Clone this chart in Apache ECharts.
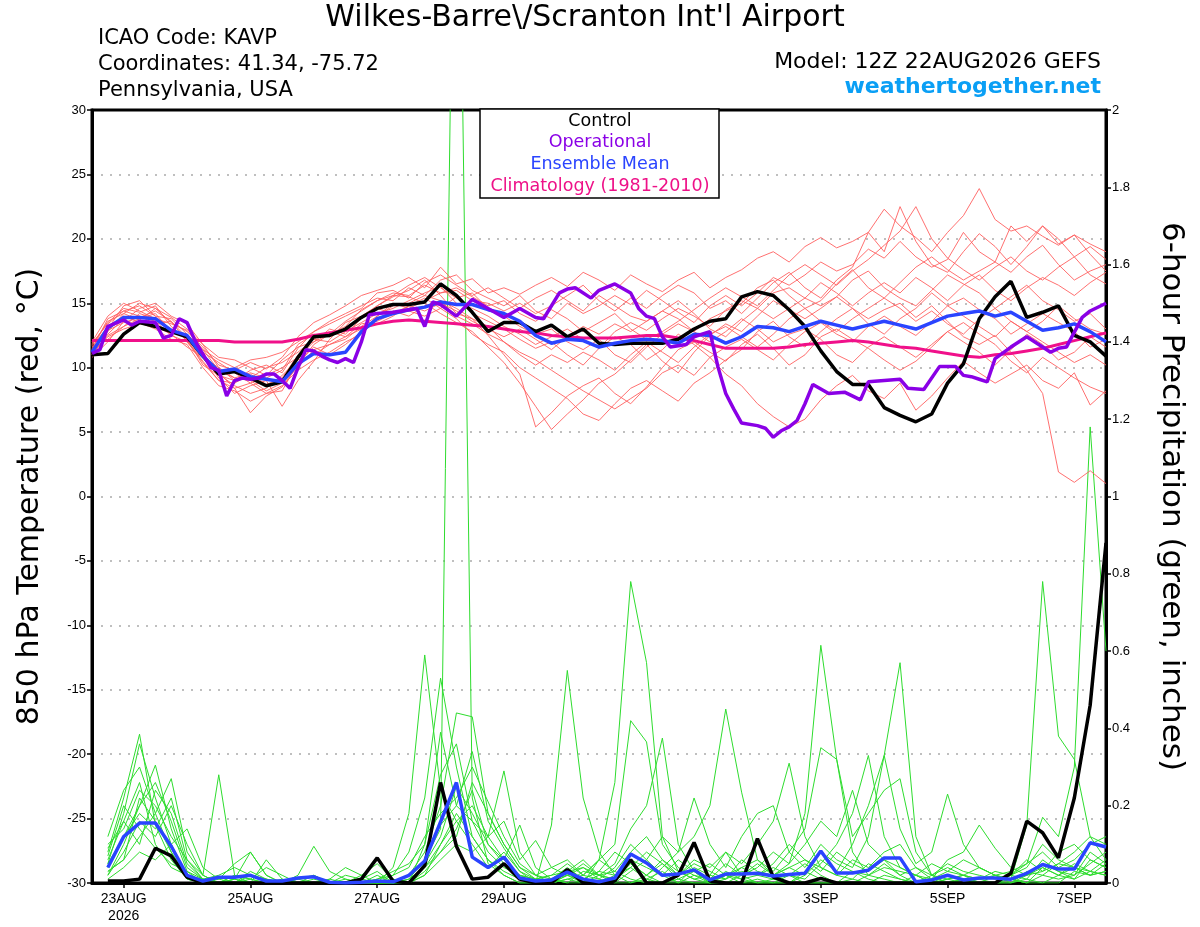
<!DOCTYPE html>
<html>
<head>
<meta charset="utf-8">
<script src="https://cdn.jsdelivr.net/npm/echarts@6.0.0/dist/echarts.min.js"></script>
<style>
  html, body { margin: 0; padding: 0; background: #fff; }
  #chart { width: 1200px; height: 927px; }
</style>
</head>
<body>
<div id="chart"></div>
<script>
// time axis: hours after 12Z 22AUG2026, one point every 6 hours
const stepHours = 6;
const tickHours = [12, 60, 108, 156, 228, 276, 324, 372];
const tickLabels = ['23AUG\n2026', '25AUG', '27AUG', '29AUG', '1SEP', '3SEP', '5SEP', '7SEP'];

// 850 hPa temperature (C), 65 values from 12Z 22AUG
const controlTemp = [
  11.0, 11.1, 12.6, 13.5, 13.2, 12.8, 12.4, 10.9, 9.5, 9.7,
  9.2, 8.6, 8.9, 10.8, 12.4, 12.5, 13.0, 13.9, 14.6, 14.9,
  14.9, 15.1, 16.5, 15.6, 14.3, 12.8, 13.5, 13.5, 12.8, 13.3,
  12.4, 13.0, 11.9, 11.8, 11.9, 11.9, 11.9, 12.2, 13.0, 13.6,
  13.8, 15.5, 15.9, 15.6, 14.5, 13.2, 11.3, 9.7, 8.7, 8.7,
  6.9, 6.3, 5.8, 6.4, 8.8, 10.3, 13.8, 15.5, 16.7, 13.9,
  14.3, 14.8, 12.5, 12.0, 10.9
];
const meanTemp = [
  11.2, 13.1, 13.9, 13.9, 13.8, 12.9, 12.5, 10.9, 9.7, 9.9,
  9.3, 9.1, 8.9, 10.3, 11.1, 11.0, 11.2, 12.8, 13.8, 14.2,
  14.5, 14.7, 15.1, 14.9, 14.9, 14.5, 14.2, 13.6, 12.5, 11.9,
  12.2, 12.1, 11.6, 11.9, 12.1, 12.2, 12.1, 11.9, 12.6, 12.5,
  11.9, 12.4, 13.2, 13.1, 12.8, 13.2, 13.6, 13.3, 13.0, 13.3,
  13.6, 13.3, 13.0, 13.5, 14.0, 14.2, 14.4, 14.0, 14.3, 13.6,
  12.9, 13.1, 13.4, 12.8, 12.0
];
const climTemp = [
  12.1, 12.1, 12.1, 12.1, 12.1, 12.1, 12.1, 12.1, 12.1, 12.0,
  12.0, 12.0, 12.0, 12.2, 12.5, 12.7, 12.9, 13.1, 13.4, 13.6,
  13.7, 13.6, 13.5, 13.4, 13.3, 13.2, 13.0, 12.8, 12.7, 12.5,
  12.4, 12.3, 12.3, 12.3, 12.4, 12.5, 12.5, 12.3, 12.1, 11.8,
  11.5, 11.5, 11.5, 11.5, 11.6, 11.8, 11.9, 12.0, 12.1, 12.0,
  11.8, 11.6, 11.5, 11.3, 11.1, 10.9, 10.8, 11.0, 11.1, 11.3,
  11.5, 11.8, 12.1, 12.4, 12.7
];
// operational run is 3-hourly, so it keeps its own hours
const opHours = [
  0, 3, 6, 12, 15, 18, 24, 27, 30, 33,
  36, 39, 45, 48, 51, 54, 57, 60, 63, 66,
  69, 72, 75, 78, 81, 84, 87, 90, 93, 96,
  99, 102, 105, 108, 114, 120, 123, 126, 129, 132,
  138, 144, 150, 156, 162, 168, 171, 177, 180, 183,
  189, 192, 198, 204, 207, 210, 213, 216, 219, 222,
  225, 228, 234, 237, 240, 243, 246, 252, 255, 258,
  261, 264, 267, 270, 273, 279, 285, 291, 294, 300,
  306, 309, 315, 321, 327, 330, 333, 336, 339, 342,
  348, 354, 360, 363, 366, 369, 375, 378, 384
];
const opTemp = [
  11.1, 11.4, 13.2, 13.7, 13.3, 13.6, 13.5, 12.3, 12.5, 13.8,
  13.5, 12.1, 10.0, 9.8, 7.8, 9.0, 9.2, 9.1, 9.2, 9.5,
  9.5, 9.0, 8.4, 10.0, 11.4, 11.3, 10.9, 10.6, 10.4, 10.7,
  10.4, 12.0, 14.1, 14.2, 14.3, 14.5, 14.6, 13.2, 15.1, 14.9,
  14.0, 15.3, 14.6, 13.9, 14.6, 13.9, 13.8, 15.8, 16.1, 16.2,
  15.4, 16.0, 16.5, 15.8, 14.6, 14.0, 13.8, 12.4, 11.6, 11.7,
  11.8, 12.4, 12.8, 10.1, 8.0, 6.8, 5.7, 5.5, 5.3, 4.6,
  5.1, 5.4, 5.9, 7.2, 8.7, 8.0, 8.1, 7.5, 8.9, 9.0,
  9.1, 8.4, 8.3, 10.1, 10.1, 9.4, 9.3, 9.1, 8.9, 10.7,
  11.6, 12.4, 11.6, 11.2, 11.5, 11.6, 13.9, 14.4, 15.0
];

// ensemble member temperatures (red spaghetti)
const memberTemps = [
  [11.5, 12.8, 14.2, 15.0, 14.6, 13.5, 12.8, 11.6, 10.2, 9.8,
   10.4, 9.9, 10.8, 12.4, 13.5, 14.1, 14.8, 15.6, 16.0, 16.4,
   17.0, 16.2, 17.8, 16.5, 16.9, 15.8, 16.2, 15.7, 16.4, 17.0,
   16.3, 17.4, 16.8, 16.0, 17.2, 16.5, 15.9, 16.8, 17.4, 16.2,
   17.0, 17.6, 18.5, 19.0, 18.2, 19.4, 20.1, 19.3, 19.8, 20.5,
   22.3, 21.0, 20.1, 19.0, 20.5, 21.8, 23.9, 21.5, 20.6, 21.0,
   20.2, 19.5, 20.3, 19.6, 19.0],
  [11.8, 13.5, 14.6, 14.3, 14.8, 13.2, 12.1, 10.5, 9.0, 8.8,
   9.5, 8.7, 9.2, 11.0, 12.2, 12.0, 12.8, 13.5, 14.2, 14.6,
   15.2, 15.8, 16.3, 15.0, 14.6, 14.0, 13.2, 12.6, 11.8, 12.4,
   13.0, 12.2, 11.5, 12.8, 13.5, 12.9, 13.8, 14.6, 14.0, 13.2,
   14.5, 15.2, 14.6, 15.8, 16.2, 15.4, 14.8, 15.5, 14.6, 13.8,
   14.5, 15.0, 13.9, 14.8, 13.6, 12.4, 11.8, 12.5, 11.2, 9.8,
   8.0, 1.9, 1.1, 2.0, 1.0],
  [11.0, 12.6, 13.8, 14.0, 13.6, 12.5, 12.0, 10.8, 9.6, 8.4,
   6.5, 7.8, 8.5, 10.2, 11.8, 12.6, 13.2, 14.5, 15.2, 15.6,
   15.5, 15.0, 14.2, 13.5, 12.8, 11.6, 10.4, 8.8, 7.0, 5.2,
   6.4, 7.5, 8.8, 9.5, 10.6, 11.8, 10.5, 9.6, 11.2, 12.5,
   13.4, 12.8, 14.0, 15.2, 14.5, 13.8, 14.6, 15.5, 16.8, 17.5,
   16.2, 15.4, 14.8, 16.0, 17.2, 16.5, 15.8, 14.6, 15.5, 16.4,
   15.2, 14.5, 13.6, 14.2, 13.0],
  [11.2, 13.0, 14.8, 15.2, 14.0, 13.8, 12.6, 11.0, 9.2, 8.0,
   8.6, 9.0, 7.0, 9.0, 10.5, 12.2, 13.5, 14.0, 14.8, 15.5,
   16.0, 16.8, 15.6, 14.2, 13.8, 12.5, 11.0, 9.5, 5.4, 6.5,
   7.8, 8.6, 9.2, 8.0, 7.2, 8.5, 10.0, 11.4, 12.0, 11.2,
   10.5, 11.8, 12.6, 11.5, 10.2, 11.0, 12.4, 13.0, 12.2, 11.5,
   10.6, 9.8, 10.5, 11.6, 12.8, 13.5, 12.6, 11.8, 10.5, 9.6,
   10.8, 10.0, 9.2, 8.5, 8.0],
  [12.0, 14.0, 15.0, 14.4, 13.8, 13.0, 12.2, 10.2, 9.4, 9.0,
   9.8, 10.2, 9.6, 11.5, 12.8, 13.6, 14.2, 14.8, 15.4, 15.2,
   16.2, 15.6, 16.8, 17.2, 16.0, 15.4, 14.8, 15.6, 14.4, 13.8,
   15.0, 14.2, 14.8, 15.6, 14.9, 16.0, 15.2, 14.3, 13.5, 14.8,
   15.6, 14.8, 15.8, 17.0, 16.4, 17.2, 18.2, 17.5, 18.0, 19.2,
   18.5, 19.8, 18.6, 17.8, 18.4, 20.5, 19.0, 18.2, 17.4, 18.6,
   19.5, 18.0, 16.8, 17.5, 18.0],
  [11.4, 12.2, 13.2, 13.8, 14.2, 12.8, 12.4, 11.2, 10.4, 9.6,
   8.8, 9.4, 10.0, 10.8, 12.0, 13.0, 12.6, 13.8, 14.6, 14.2,
   14.8, 15.4, 14.6, 15.5, 14.2, 13.6, 13.0, 12.2, 11.5, 12.0,
   11.0, 10.2, 11.5, 12.4, 11.8, 10.6, 11.4, 12.6, 11.8, 10.8,
   9.5, 8.6, 7.2, 6.2, 5.4, 6.0, 7.5, 8.6, 9.4, 8.2,
   7.6, 8.8, 6.7, 7.8, 9.2, 10.5, 9.6, 8.8, 9.5, 10.2,
   9.0, 8.4, 9.6, 7.1, 8.2],
  [10.8, 12.0, 13.6, 14.6, 15.0, 14.0, 13.4, 11.8, 10.0, 9.2,
   9.0, 8.2, 8.8, 10.0, 11.4, 11.8, 12.2, 13.2, 14.0, 15.0,
   14.6, 15.2, 15.8, 16.2, 15.5, 14.8, 15.2, 14.2, 13.6, 14.5,
   13.8, 12.8, 13.5, 14.2, 13.0, 12.2, 12.8, 13.6, 14.5, 15.4,
   16.2, 15.5, 14.8, 16.0, 17.2, 18.0, 17.2, 16.4, 17.5, 18.4,
   19.5, 20.6, 22.5, 20.0, 18.5, 17.6, 16.8, 17.8, 18.6, 17.5,
   16.8, 17.8, 18.6, 17.2, 16.5],
  [11.6, 13.2, 14.0, 13.5, 13.0, 12.2, 11.8, 10.0, 8.6, 8.2,
   7.4, 8.0, 8.6, 9.8, 10.6, 11.2, 12.0, 12.6, 13.8, 14.4,
   14.0, 14.8, 15.2, 14.6, 13.8, 13.2, 12.0, 11.2, 10.6, 9.8,
   9.0, 8.2, 7.5, 6.8, 7.6, 8.4, 9.6, 10.2, 9.4, 10.8,
   11.6, 12.2, 11.4, 10.6, 11.8, 12.8, 13.5, 12.6, 12.0, 13.2,
   14.0, 13.2, 12.5, 13.6, 14.8, 15.4, 14.5, 13.8, 12.6, 13.4,
   14.2, 13.5, 12.8, 11.6, 12.2],
  [11.0, 12.5, 13.2, 14.2, 13.8, 13.4, 12.9, 11.4, 9.8, 9.2,
   9.6, 9.2, 9.8, 11.8, 12.6, 12.4, 13.0, 13.8, 14.8, 15.6,
   16.4, 17.0, 16.2, 15.4, 15.8, 14.6, 14.0, 13.2, 12.6, 13.0,
   12.0, 11.4, 12.2, 11.0, 10.4, 11.6, 12.6, 13.4, 12.8, 13.8,
   14.4, 15.0, 16.2, 16.8, 15.6, 14.6, 15.2, 16.5, 17.6, 16.2,
   15.4, 16.6, 17.8, 18.6, 17.6, 16.8, 17.5, 18.2, 21.0, 19.8,
   21.0, 19.6, 20.3, 18.8, 17.5],
  [11.3, 12.9, 13.5, 13.9, 14.4, 13.6, 12.3, 11.0, 9.5, 8.6,
   8.0, 8.4, 9.4, 10.6, 11.0, 11.8, 12.4, 13.4, 13.6, 14.2,
   14.4, 14.0, 14.6, 13.8, 12.6, 11.8, 11.2, 10.0, 9.2, 8.4,
   7.6, 6.4, 5.9, 7.2, 8.4, 9.0, 8.2, 7.4, 8.8, 9.6,
   10.6, 11.4, 12.8, 13.6, 12.4, 11.6, 12.8, 13.8, 14.6, 13.4,
   12.6, 13.8, 14.6, 15.8, 14.8, 14.0, 13.2, 12.4, 13.6, 12.8,
   12.0, 11.2, 10.4, 11.0, 10.2],
  [11.9, 13.4, 14.4, 14.8, 14.0, 12.9, 12.6, 11.4, 10.6, 10.0,
   10.6, 10.8, 11.2, 12.0, 12.8, 13.4, 14.0, 14.6, 15.8, 16.0,
   15.4, 16.6, 17.2, 16.4, 15.6, 16.2, 15.4, 14.6, 15.4, 16.0,
   15.2, 14.4, 15.6, 14.8, 14.0, 13.6, 14.4, 15.2, 14.2, 13.0,
   12.4, 13.6, 14.6, 13.8, 14.6, 15.4, 16.6, 15.8, 14.8, 15.8,
   16.6, 15.8, 17.0, 16.2, 15.2, 16.4, 17.2, 16.0, 15.2, 16.2,
   17.0, 16.4, 15.6, 16.6, 17.4],
  [11.1, 12.4, 13.0, 13.4, 13.2, 12.6, 11.6, 10.8, 10.0, 9.0,
   9.2, 10.0, 10.4, 11.2, 12.2, 12.8, 12.4, 13.0, 13.4, 14.0,
   14.8, 14.4, 15.0, 14.4, 13.6, 13.0, 12.4, 13.0, 12.2, 11.4,
   12.4, 13.2, 12.6, 13.4, 12.8, 13.6, 14.4, 13.8, 12.8, 12.0,
   12.8, 13.8, 13.0, 12.0, 12.6, 13.0, 12.2, 11.0, 10.4, 11.6,
   12.4, 11.6, 10.8, 11.8, 12.8, 12.0, 11.2, 10.2, 11.4, 12.6,
   11.8, 10.6, 11.2, 12.4, 11.6],
  [11.7, 13.6, 14.2, 13.7, 14.6, 13.9, 13.0, 11.8, 10.8, 10.6,
   10.0, 9.4, 10.6, 11.6, 12.0, 12.6, 13.6, 14.4, 15.2, 15.8,
   15.6, 16.4, 15.8, 16.0, 15.2, 15.0, 14.4, 15.0, 14.2, 14.8,
   15.6, 16.4, 15.2, 14.4, 15.4, 14.6, 15.6, 16.4, 15.8, 14.6,
   15.2, 14.2, 15.4, 16.6, 17.4, 16.2, 15.4, 16.8, 17.8, 20.5,
   19.0, 22.5, 19.8, 18.0, 17.4, 19.0, 20.4, 19.4, 18.0, 19.4,
   21.0, 20.0, 18.6, 19.4, 18.4],
  [11.4, 13.8, 14.4, 14.0, 13.4, 13.6, 12.0, 10.4, 9.0, 8.4,
   8.8, 8.0, 8.2, 10.4, 11.6, 11.0, 11.8, 12.8, 14.0, 14.8,
   15.0, 15.6, 15.2, 14.0, 13.4, 12.6, 12.0, 11.0, 10.2, 11.0,
   10.4, 11.2, 10.6, 9.8, 11.0, 12.0, 11.2, 10.4, 11.6, 12.6,
   13.2, 12.4, 11.6, 12.6, 13.8, 14.6, 13.6, 12.8, 13.8, 14.6,
   15.4, 14.6, 13.6, 14.4, 13.4, 12.6, 13.8, 14.6, 13.6, 12.8,
   13.6, 14.8, 13.8, 13.0, 12.6]
];

// 6-hour precipitation (inches), 64 values from 18Z 22AUG
const controlPrecip = [
  0.005, 0.005, 0.01, 0.09, 0.07, 0.015, 0, 0, 0, 0,
  0, 0, 0, 0, 0, 0, 0.01, 0.065, 0.005, 0,
  0.045, 0.26, 0.095, 0.01, 0.015, 0.05, 0.01, 0, 0, 0.035,
  0, 0, 0.005, 0.06, 0, 0, 0.02, 0.105, 0.005, 0,
  0, 0.115, 0.015, 0, 0, 0.012, 0, 0, 0, 0,
  0, 0, 0, 0, 0, 0, 0, 0.025, 0.16, 0.13,
  0.065, 0.22, 0.46, 0.88
];
const meanPrecip = [
  0.04, 0.12, 0.155, 0.155, 0.095, 0.02, 0.005, 0.015, 0.015, 0.02,
  0.005, 0.005, 0.013, 0.016, 0.002, 0, 0.002, 0.005, 0.003, 0.02,
  0.057, 0.158, 0.26, 0.067, 0.04, 0.067, 0.013, 0.005, 0.008, 0.028,
  0.01, 0.003, 0.013, 0.075, 0.052, 0.02, 0.023, 0.034, 0.008, 0.023,
  0.023, 0.025, 0.018, 0.022, 0.025, 0.083, 0.026, 0.026, 0.033, 0.065,
  0.065, 0.003, 0.008, 0.02, 0.008, 0.013, 0.013, 0.01, 0.025, 0.048,
  0.036, 0.036, 0.104, 0.093
];
const memberPrecips = [
  [0.05, 0.18, 0.36, 0.22, 0.10, 0.02, 0, 0, 0.01, 0,
   0, 0, 0, 0.01, 0, 0, 0, 0.02, 0, 0.01,
   0.06, 0.14, 3.2, 0.22, 0.05, 0.02, 0, 0, 0, 0.01,
   0, 0, 0.02, 0.04, 0.01, 0, 0, 0.02, 0, 0,
   0, 0.01, 0, 0, 0.03, 0.01, 0, 0, 0.02, 0.05,
   0.02, 0, 0, 0, 0.01, 0, 0, 0, 0.02, 0.05,
   0.03, 0.01, 0.06, 0.04],
  [0.08, 0.22, 0.385, 0.15, 0.06, 0.01, 0, 0, 0, 0.02,
   0.01, 0, 0, 0, 0, 0, 0, 0, 0.01, 0,
   0.02, 0.10, 0.18, 0.12, 0.06, 0.03, 0.01, 0, 0.15, 0.55,
   0.22, 0.08, 0.02, 0, 0.01, 0.03, 0, 0, 0, 0,
   0.02, 0, 0, 0, 0, 0, 0, 0.01, 0, 0,
   0, 0, 0.02, 0.01, 0, 0, 0, 0, 0.03, 0.02,
   0.01, 0.02, 0.05, 0.08],
  [0.02, 0.10, 0.20, 0.305, 0.14, 0.03, 0.01, 0, 0.02, 0.01,
   0, 0, 0.01, 0, 0, 0, 0.01, 0.03, 0, 0,
   0.04, 0.08, 0.14, 0.24, 0.10, 0.05, 0.02, 0.01, 0, 0.02,
   0, 0.06, 0.26, 0.78, 0.57, 0.12, 0.03, 0.01, 0, 0.02,
   0, 0, 0.01, 0.02, 0, 0, 0, 0.03, 0.01, 0,
   0, 0, 0, 0.01, 0.02, 0, 0, 0.01, 0, 0,
   0.02, 0.04, 0.02, 0.03],
  [0.03, 0.06, 0.12, 0.18, 0.27, 0.08, 0.02, 0.28, 0.02, 0,
   0, 0, 0, 0, 0, 0.01, 0, 0, 0.02, 0.08,
   0.22, 0.53, 0.30, 0.12, 0.06, 0.02, 0, 0, 0.01, 0.02,
   0.04, 0.01, 0, 0, 0.02, 0.05, 0.01, 0, 0, 0.03,
   0.01, 0, 0, 0.02, 0.05, 0.02, 0, 0, 0, 0.02,
   0.01, 0, 0, 0, 0, 0.01, 0.02, 0.01, 0, 0.04,
   0.02, 0.01, 0.03, 0.02],
  [0.10, 0.14, 0.24, 0.20, 0.12, 0.06, 0.01, 0, 0, 0.03,
   0.01, 0, 0, 0.02, 0, 0, 0, 0, 0.04, 0.18,
   0.59, 0.24, 0.16, 0.10, 0.04, 0.08, 0.03, 0, 0, 0.01,
   0.02, 0.06, 0.03, 0.01, 0, 0.04, 0.08, 0.12, 0.20, 0.45,
   0.235, 0.06, 0.02, 0.05, 0.18, 0.615, 0.32, 0.08, 0.02, 0.01,
   0, 0.02, 0, 0, 0.01, 0, 0, 0.02, 0.01, 0,
   0, 0.03, 0.02, 0.05],
  [0.06, 0.16, 0.26, 0.10, 0.04, 0.02, 0, 0, 0.01, 0.08,
   0.02, 0, 0, 0, 0, 0, 0.02, 0.05, 0.01, 0,
   0.10, 0.39, 0.20, 0.16, 0.12, 0.29, 0.08, 0.02, 0.01, 0,
   0.03, 0.02, 0.05, 0.14, 0.20, 0.375, 0.10, 0.03, 0, 0.01,
   0.04, 0.02, 0.01, 0, 0.02, 0.06, 0.03, 0.10, 0.20, 0.33,
   0.57, 0.12, 0.02, 0, 0.01, 0, 0.02, 0, 0.01, 0.06,
   0.03, 0.02, 0.08, 0.05],
  [0.04, 0.12, 0.20, 0.26, 0.16, 0.04, 0.01, 0, 0, 0,
   0, 0.01, 0, 0, 0.01, 0, 0, 0, 0, 0.02,
   0.08, 0.20, 0.44, 0.43, 0.18, 0.10, 0.04, 0.02, 0, 0.02,
   0.05, 0.02, 0, 0.03, 0.06, 0.02, 0, 0.04, 0.02, 0.08,
   0.05, 0.10, 0.16, 0.31, 0.12, 0.04, 0.02, 0.01, 0.05, 0.03,
   0.01, 0, 0, 0.02, 0.01, 0, 0, 0.01, 0.15, 0.78,
   0.38, 0.32, 0.12, 0.06],
  [0.02, 0.08, 0.16, 0.12, 0.20, 0.10, 0.02, 0, 0, 0.01,
   0, 0, 0, 0, 0, 0.02, 0.01, 0, 0, 0.02,
   0.05, 0.12, 0.25, 0.18, 0.10, 0.06, 0.15, 0.04, 0.01, 0,
   0, 0.02, 0.01, 0.05, 0.02, 0, 0.01, 0.03, 0, 0.02,
   0.01, 0.02, 0.04, 0.02, 0.01, 0.05, 0.10, 0.18, 0.33, 0.12,
   0.04, 0.02, 0, 0.01, 0.02, 0.01, 0, 0.02, 0.05, 0.17,
   0.12, 0.30, 1.18, 0.60],
  [0.07, 0.20, 0.14, 0.09, 0.05, 0.03, 0, 0.01, 0, 0,
   0.06, 0.01, 0, 0, 0, 0, 0, 0.01, 0.02, 0.04,
   0.12, 0.18, 0.22, 0.30, 0.21, 0.12, 0.05, 0.02, 0.04, 0.06,
   0.02, 0.01, 0.04, 0.10, 0.06, 0.12, 0.08, 0.22, 0.10, 0.04,
   0.12, 0.18, 0.20, 0.08, 0.04, 0.10, 0.06, 0.04, 0.12, 0.33,
   0.14, 0.05, 0.08, 0.23, 0.10, 0.04, 0.02, 0.01, 0, 0.02,
   0.05, 0.08, 0.12, 0.10],
  [0.12, 0.24, 0.30, 0.18, 0.08, 0.01, 0, 0, 0.02, 0.01,
   0.04, 0.02, 0, 0, 0, 0, 0, 0, 0, 0.01,
   0.04, 0.10, 0.16, 0.20, 0.12, 0.06, 0.02, 0.01, 0.02, 0.05,
   0.02, 0.06, 0.10, 0.42, 0.365, 0.10, 0.04, 0.02, 0.01, 0.05,
   0.02, 0.04, 0.08, 0.05, 0.10, 0.16, 0.12, 0.24, 0.10, 0.06,
   0.02, 0.04, 0.01, 0.06, 0.08, 0.15, 0.09, 0.04, 0.02, 0.04,
   0.02, 0.05, 0.03, 0.02],
  [0.09, 0.16, 0.10, 0.24, 0.18, 0.05, 0.01, 0, 0, 0,
   0, 0, 0.02, 0.095, 0.03, 0.01, 0, 0, 0, 0,
   0.02, 0.06, 0.10, 0.08, 0.12, 0.16, 0.06, 0.11, 0.04, 0.02,
   0.01, 0.03, 0.02, 0.06, 0.04, 0.02, 0.06, 0.03, 0.05, 0.02,
   0.04, 0.06, 0.03, 0.08, 0.14, 0.35, 0.32, 0.12, 0.18, 0.24,
   0.27, 0.08, 0.02, 0.04, 0.02, 0.01, 0.03, 0.02, 0.06, 0.03,
   0.08, 0.10, 0.06, 0.04],
  [0.01, 0.04, 0.08, 0.06, 0.10, 0.14, 0.04, 0.01, 0.05, 0.08,
   0.02, 0, 0, 0, 0.01, 0.04, 0.02, 0, 0, 0,
   0.03, 0.08, 0.12, 0.26, 0.18, 0.10, 0.04, 0.01, 0, 0.03,
   0.06, 0.02, 0.01, 0.04, 0.08, 0.05, 0.02, 0.06, 0.04, 0.08,
   0.02, 0.05, 0.02, 0.04, 0.06, 0.03, 0.08, 0.05, 0.03, 0.06,
   0.04, 0.02, 0.05, 0.03, 0.06, 0.04, 0.02, 0.03, 0.05, 0.08,
   0.04, 0.06, 0.10, 0.12],
  [0.05, 0.12, 0.18, 0.14, 0.22, 0.06, 0.02, 0, 0.01, 0,
   0, 0, 0.01, 0.02, 0, 0, 0, 0.01, 0.03, 0.05,
   0.10, 0.28, 0.36, 0.16, 0.08, 0.04, 0.02, 0, 0.01, 0.04,
   0.01, 0.03, 0.08, 0.05, 0.02, 0.06, 0.03, 0.01, 0.02, 0.01,
   0.03, 0.02, 0.05, 0.10, 0.06, 0.04, 0.02, 0.06, 0.04, 0.08,
   0.10, 0.04, 0.02, 0.05, 0.03, 0.02, 0.01, 0.02, 0.04, 0.10,
   0.06, 0.04, 0.02, 0.03],
  [0.03, 0.06, 0.22, 0.16, 0.08, 0.02, 0.01, 0.02, 0.04, 0.02,
   0.01, 0, 0, 0, 0, 0, 0.01, 0, 0, 0.02,
   0.06, 0.15, 0.20, 0.34, 0.16, 0.09, 0.03, 0.01, 0.02, 0.03,
   0.04, 0.02, 0.03, 0.08, 0.12, 0.06, 0.02, 0.05, 0.03, 0.01,
   0.06, 0.03, 0.02, 0.04, 0.02, 0.08, 0.05, 0.03, 0.02, 0.04,
   0.03, 0.02, 0.01, 0.03, 0.02, 0.04, 0.02, 0.01, 0.02, 0.03,
   0.05, 0.04, 0.03, 0.06]
];

const tempPairs = arr => arr.map((v, i) => [i * stepHours, v]);
const precipPairs = arr => arr.map((v, i) => [(i + 1) * stepHours, v]);

const baseFont = 'Liberation Sans, Arial, sans-serif';
const wideFont = '"DejaVu Sans", Verdana, sans-serif';
const line = (name, data, color, width, yIndex, z) => ({
  name: name, type: 'line', data: data, yAxisIndex: yIndex,
  showSymbol: false, silent: true, z: z,
  lineStyle: { color: color, width: width },
  animation: false
});

const series = [];
memberPrecips.forEach((m, k) => series.push(line('precip' + k, precipPairs(m), '#2edc2e', 1, 1, 2)));
memberTemps.forEach((m, k) => series.push(line('temp' + k, tempPairs(m), '#ff6060', 0.9, 0, 3)));
series.push(line('Control precip', precipPairs(controlPrecip), '#000000', 3.5, 1, 5));
series.push(line('Mean precip', precipPairs(meanPrecip), '#2a44ff', 3.5, 1, 6));
series.push(line('Climatology', tempPairs(climTemp), '#f0108a', 3, 0, 7));
series.push(line('Control', tempPairs(controlTemp), '#000000', 3.5, 0, 8));
series.push(line('Ensemble Mean', tempPairs(meanTemp), '#2a44ff', 3.5, 0, 9));
series.push(line('Operational', opHours.map((h, i) => [h, opTemp[i]]), '#8a00e6', 3.5, 0, 10));

const chart = echarts.init(document.getElementById('chart'));
chart.setOption({
  backgroundColor: '#fff',
  animation: false,
  textStyle: { fontFamily: baseFont },
  grid: { left: 92, right: 94, top: 110, bottom: 44, show: true, borderColor: '#000', borderWidth: 3 },
  xAxis: {
    type: 'value', min: 0, max: 384,
    axisLine: { onZero: false, lineStyle: { color: '#000', width: 3 } },
    axisTick: { customValues: tickHours, length: 5, lineStyle: { color: '#000', width: 1.5 } },
    axisLabel: {
      customValues: tickHours, color: '#000', fontSize: 14, margin: 8, lineHeight: 17,
      formatter: v => tickLabels[tickHours.indexOf(v)] || ''
    },
    splitLine: { show: false }
  },
  yAxis: [{
    type: 'value', min: -30, max: 30, interval: 5, position: 'left',
    name: '850 hPa Temperature (red, \u00B0C)', nameLocation: 'middle', nameRotate: 90, nameGap: 47,
    nameTextStyle: { fontSize: 30, color: '#000', fontFamily: wideFont },
    axisLine: { show: true, onZero: false, lineStyle: { color: '#000', width: 3 } },
    axisTick: { show: true, length: 5, lineStyle: { color: '#000', width: 1.5 } },
    axisLabel: { color: '#000', fontSize: 13, margin: 6 },
    splitLine: { show: true, showMinLine: false, showMaxLine: false, lineStyle: { color: '#aaaaaa', width: 1.5, type: [2, 7] } }
  }, {
    type: 'value', min: 0, max: 2, interval: 0.2, position: 'right',
    name: '6-hour Precipitation (green, inches)', nameLocation: 'middle', nameRotate: -90, nameGap: 50,
    nameTextStyle: { fontSize: 31, color: '#000', fontFamily: wideFont },
    axisLine: { show: true, onZero: false, lineStyle: { color: '#000', width: 3 } },
    axisTick: { show: true, length: 5, lineStyle: { color: '#000', width: 1.5 } },
    axisLabel: { color: '#000', fontSize: 13, margin: 6, formatter: v => String(+v.toFixed(1)) },
    splitLine: { show: false }
  }],
  graphic: [
    { type: 'text', x: 585, y: 18, style: { text: 'Wilkes-Barre\\/Scranton Int\'l Airport', font: '30px ' + wideFont, fill: '#000', align: 'center', verticalAlign: 'middle' } },
    { type: 'text', left: 98, top: 28, style: { text: 'ICAO Code: KAVP', font: '21px ' + wideFont, fill: '#000' } },
    { type: 'text', left: 98, top: 54, style: { text: 'Coordinates: 41.34, -75.72', font: '21px ' + wideFont, fill: '#000' } },
    { type: 'text', left: 98, top: 80, style: { text: 'Pennsylvania, USA', font: '21px ' + wideFont, fill: '#000' } },
    { type: 'text', right: 99, top: 51, style: { text: 'Model: 12Z 22AUG2026 GEFS', font: '22px ' + wideFont, fill: '#000' } },
    { type: 'text', right: 99, top: 76, style: { text: 'weathertogether.net', font: 'bold 22px ' + wideFont, fill: '#0a9ff5' } },
    { type: 'rect', z: 50, shape: { x: 480, y: 109, width: 239, height: 89 }, style: { fill: '#fff', stroke: '#000', lineWidth: 1.5 } },
    { type: 'text', z: 51, x: 600, y: 121, style: { text: 'Control', font: '17.5px ' + wideFont, fill: '#000', align: 'center', verticalAlign: 'middle' } },
    { type: 'text', z: 51, x: 600, y: 142, style: { text: 'Operational', font: '17.5px ' + wideFont, fill: '#8a00e6', align: 'center', verticalAlign: 'middle' } },
    { type: 'text', z: 51, x: 600, y: 164, style: { text: 'Ensemble Mean', font: '17.5px ' + wideFont, fill: '#2a44ff', align: 'center', verticalAlign: 'middle' } },
    { type: 'text', z: 51, x: 600, y: 186, style: { text: 'Climatology (1981-2010)', font: '17.5px ' + wideFont, fill: '#ee1188', align: 'center', verticalAlign: 'middle' } }
  ],
  series: series
});
</script>
</body>
</html>
